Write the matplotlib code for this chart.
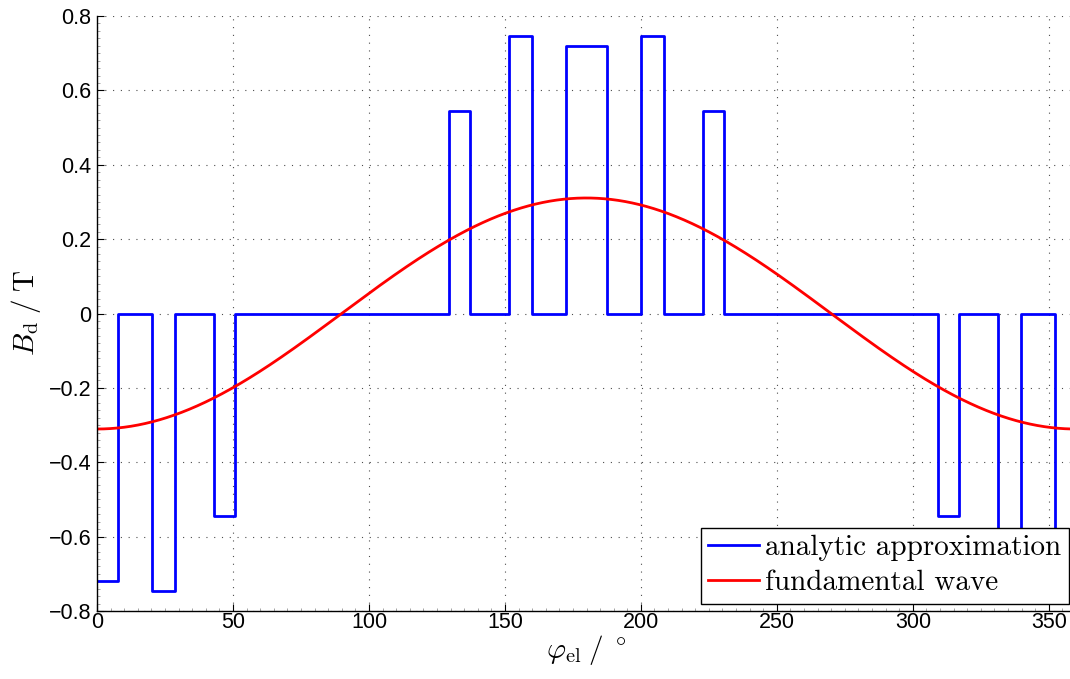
import numpy as np
import matplotlib
matplotlib.use("Agg")
import matplotlib.pyplot as plt
from matplotlib.ticker import AutoMinorLocator

plt.rcParams['mathtext.fontset'] = 'cm'
plt.rcParams['font.family'] = ['Liberation Sans', 'DejaVu Sans']

# step edges (electrical degrees) and flux density level on each interval
edges = [0, 7.6, 20.2, 28.6, 43.0, 50.6, 129.4, 137.0, 151.4, 159.8, 172.4,
         187.6, 200.2, 208.6, 223.0, 230.6, 309.4, 317.0, 331.4, 339.8, 352.4, 360]
levels = [-0.72, 0, -0.745, 0, -0.544, 0, 0.544, 0, 0.745, 0, 0.72,
          0, 0.745, 0, 0.544, 0, -0.544, 0, -0.745, 0, -0.72]

# fundamental (first harmonic) of the step curve
phi = np.linspace(0, 360, 3601)
idx = np.clip(np.searchsorted(edges, phi, side='right') - 1, 0, len(levels) - 1)
b_step = np.array(levels)[idx]
rad = np.deg2rad(phi)
a1 = np.trapezoid(b_step * np.cos(rad), rad) / np.pi
b1 = np.trapezoid(b_step * np.sin(rad), rad) / np.pi
b_fund = a1 * np.cos(rad) + b1 * np.sin(rad)

fig = plt.figure(figsize=(10.70, 6.79), dpi=100)
ax = fig.add_axes([97 / 1070, 68 / 679, 979 / 1070, 595 / 679])

ax.step(edges, levels + [levels[-1]], where='post', color='#0000ff', lw=2,
        label='analytic approximation')
ax.plot(phi, b_fund, color='#ff0000', lw=2, label='fundamental wave')

ax.set_xlim(0, 360)
ax.set_ylim(-0.8, 0.8)
ax.set_xticks(np.arange(0, 351, 50))
ax.set_yticks(np.arange(-0.8, 0.81, 0.2))
ax.set_yticklabels(['\u22120.8', '\u22120.6', '\u22120.4', '\u22120.2', '0',
                    '0.2', '0.4', '0.6', '0.8'])
ax.xaxis.set_minor_locator(AutoMinorLocator(10))
ax.yaxis.set_minor_locator(AutoMinorLocator(10))
ax.tick_params(which='major', direction='in', length=5, width=0.8,
               labelsize=15.5, pad=4)
ax.tick_params(axis='x', which='major', pad=1)
ax.tick_params(which='minor', direction='in', length=2.5, width=0.5,
               color='0.5')
ax.grid(True, which='major', color='0.3', lw=0.8, linestyle=(0, (1, 6)))

for side in ['top', 'right']:
    ax.spines[side].set_visible(False)
for side in ['left', 'bottom']:
    ax.spines[side].set_linewidth(1.0)

ax.set_xlabel(r'$\varphi_{\rm el}\;/\;^\circ$', fontsize=21, labelpad=0)
ax.set_ylabel(r'$B_{\rm d}\;/\;\rm T$', fontsize=21, labelpad=4)

leg = ax.legend(loc='lower right', prop={'family': 'cmr10', 'size': 21},
                fancybox=False, edgecolor='black', framealpha=1,
                borderaxespad=0.25, handlelength=1.75, handletextpad=0.2,
                borderpad=0.25, labelspacing=0.3)
leg.get_frame().set_linewidth(1.0)

fig.savefig('out.png', dpi=100)
